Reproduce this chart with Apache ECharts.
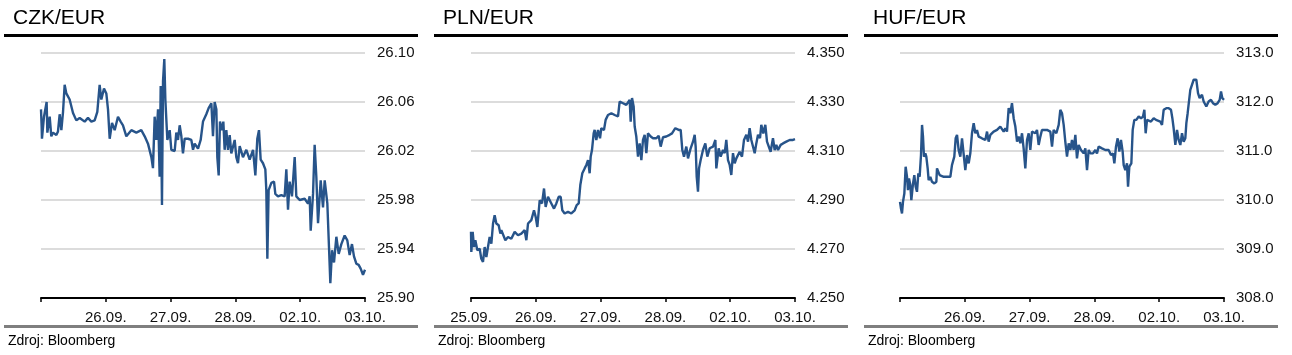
<!DOCTYPE html>
<html>
<head>
<meta charset="utf-8">
<script src="https://cdn.jsdelivr.net/npm/echarts@6/dist/echarts.min.js"></script>
<style>
html,body{margin:0;padding:0;background:#fff;}
#c{width:1292px;height:355px;}
</style>
</head>
<body>
<div id="c"></div>
<script>
// Time in trading-day units x100 (0 = start of 25.09., 500 = 03.10.)
const titles = ['CZK/EUR', 'PLN/EUR', 'HUF/EUR'];
const sourceText = 'Zdroj: Bloomberg';
const dayLabels = ['25.09.', '26.09.', '27.09.', '28.09.', '02.10.', '03.10.'];
const showFirstDayLabel = [false, true, false];

const czkYTicks = [25.90, 25.94, 25.98, 26.02, 26.06, 26.10];
const plnYTicks = [4.250, 4.270, 4.290, 4.310, 4.330, 4.350];
const hufYTicks = [308.0, 309.0, 310.0, 311.0, 312.0, 313.0];

const czkData = [
[0,26.054],[1.0,26.040],[1.5,26.030],[4.6,26.048],[8.7,26.060],[9.8,26.035],[13.4,26.048],[15.9,26.032],[18.5,26.035],[23.7,26.033],[26.2,26.036],[28.8,26.050],[31.4,26.037],[34.0,26.052],[36.5,26.074],[39.1,26.067],[44.2,26.062],[46.8,26.062],[49.4,26.051],[54.5,26.045],[59.7,26.047],[67.4,26.044],[72.5,26.047],[77.7,26.044],[82.8,26.045],[86.9,26.052],[90.5,26.074],[93.1,26.062],[97.2,26.071],[100.8,26.067],[103.4,26.054],[106.0,26.030],[109.6,26.043],[113.7,26.037],[118.8,26.048],[122.9,26.044],[126.5,26.041],[131.7,26.032],[139.4,26.037],[147.1,26.035],[154.8,26.037],[160.0,26.032],[165.1,26.026],[170.3,26.015],[172.8,26.006],[175.4,26.048],[178.0,26.029],[180.6,26.054],[183.1,25.999],[184.7,26.073],[186.7,25.976],[188.3,26.077],[190.3,26.095],[191.9,26.062],[195.0,26.029],[198.6,26.037],[201.1,26.021],[206.3,26.020],[208.8,26.035],[211.4,26.029],[214.0,26.041],[216.6,26.032],[219.1,26.018],[221.7,26.030],[226.9,26.030],[232.0,26.029],[234.6,26.021],[237.1,26.026],[242.3,26.022],[246.4,26.029],[250.0,26.044],[255.1,26.050],[258.7,26.055],[262.9,26.059],[265.4,26.032],[268.0,26.060],[270.6,26.054],[272.1,26.015],[274.2,26.000],[276.2,26.044],[279.3,26.037],[281.4,26.044],[283.4,26.021],[286.0,26.037],[288.6,26.021],[291.2,26.033],[293.7,26.018],[298.9,26.029],[301.4,26.015],[304.0,26.010],[306.6,26.024],[311.7,26.015],[316.9,26.021],[322.0,26.013],[327.2,26.021],[330.8,26.000],[333.8,26.030],[336.4,26.037],[339.0,26.013],[342.6,26.010],[346.2,26.005],[347.7,25.988],[349.3,25.932],[351.3,25.988],[355.5,25.994],[359.6,25.995],[361.6,25.985],[365.7,25.983],[370.9,25.984],[376.0,25.983],[378.6,26.005],[381.2,25.972],[383.7,25.995],[387.3,25.983],[391.5,26.015],[394.0,25.983],[399.2,25.980],[406.9,25.981],[412.0,25.977],[414.6,25.983],[416.2,25.955],[419.8,25.985],[422.3,26.025],[424.9,25.999],[427.5,25.961],[431.6,25.996],[435.2,25.974],[437.8,25.996],[441.9,25.977],[444.4,25.942],[446.5,25.912],[449.1,25.939],[452.2,25.929],[455.8,25.950],[459.4,25.936],[463.5,25.944],[468.6,25.951],[472.7,25.947],[476.3,25.935],[479.9,25.944],[483.0,25.934],[486.6,25.928],[490.2,25.927],[493.3,25.924],[496.9,25.919],[500,25.923]
];

const plnData = [
[0,4.2770],[0.5,4.2688],[2.6,4.2770],[4.6,4.2708],[6.7,4.2736],[9.8,4.2695],[13.4,4.2701],[15.9,4.2660],[18.5,4.2647],[21.1,4.2708],[23.7,4.2667],[26.2,4.2708],[28.8,4.2749],[31.4,4.2722],[34.0,4.2804],[36.5,4.2838],[39.1,4.2804],[42.7,4.2797],[45.3,4.2763],[46.8,4.2777],[49.4,4.2770],[53.0,4.2736],[57.1,4.2749],[62.2,4.2742],[67.4,4.2770],[72.5,4.2756],[77.7,4.2763],[82.8,4.2777],[85.4,4.2736],[88.0,4.2804],[93.1,4.2818],[97.2,4.2858],[99.8,4.2831],[102.4,4.2790],[106.0,4.2899],[109.6,4.2886],[112.7,4.2947],[115.2,4.2872],[118.8,4.2913],[124.0,4.2886],[128.1,4.2865],[131.7,4.2886],[135.3,4.2913],[138.4,4.2913],[140.9,4.2858],[144.5,4.2845],[149.7,4.2852],[154.8,4.2845],[160.0,4.2858],[163.1,4.2879],[166.2,4.2886],[168.7,4.2961],[171.8,4.3009],[175.4,4.3029],[178.0,4.3043],[180.6,4.3063],[183.1,4.3009],[184.7,4.3077],[186.7,4.3104],[189.3,4.3172],[190.8,4.3186],[193.4,4.3145],[196.0,4.3186],[199.1,4.3152],[201.1,4.3193],[205.2,4.3186],[207.8,4.3227],[211.4,4.3247],[216.6,4.3254],[221.7,4.3247],[226.9,4.3241],[229.4,4.3302],[234.6,4.3295],[239.7,4.3288],[242.3,4.3282],[244.9,4.3309],[246.4,4.3220],[248.5,4.3316],[251.0,4.3282],[252.6,4.3200],[255.1,4.3159],[257.7,4.3077],[260.3,4.3131],[262.9,4.3063],[265.4,4.3145],[268.0,4.3166],[270.6,4.3091],[273.1,4.3172],[277.3,4.3159],[280.9,4.3152],[286.0,4.3152],[289.6,4.3162],[292.7,4.3118],[296.3,4.3156],[301.4,4.3159],[306.6,4.3166],[310.2,4.3172],[315.3,4.3193],[320.5,4.3186],[323.6,4.3186],[326.1,4.3104],[328.7,4.3077],[332.3,4.3118],[334.9,4.3070],[339.0,4.3111],[342.6,4.3138],[345.2,4.3166],[346.7,4.3118],[348.3,4.2995],[350.3,4.2934],[351.9,4.3029],[354.4,4.3063],[358.0,4.3104],[361.6,4.3131],[364.7,4.3077],[368.3,4.3111],[373.5,4.3118],[377.1,4.3145],[378.6,4.3029],[380.1,4.3022],[382.2,4.3111],[385.3,4.3077],[388.9,4.3104],[391.5,4.3091],[394.0,4.3145],[396.6,4.3063],[399.2,4.3043],[401.7,4.3002],[404.3,4.3091],[406.9,4.3050],[409.5,4.3070],[414.6,4.3097],[418.2,4.3077],[421.3,4.3145],[424.9,4.3166],[427.5,4.3138],[430.0,4.3193],[432.6,4.3145],[435.2,4.3152],[437.8,4.3091],[440.3,4.3131],[442.9,4.3166],[446.0,4.3152],[448.0,4.3207],[451.1,4.3172],[454.2,4.3207],[456.8,4.3138],[459.4,4.3145],[462.4,4.3097],[466.0,4.3152],[468.6,4.3104],[471.2,4.3125],[473.8,4.3104],[477.9,4.3125],[481.5,4.3131],[486.6,4.3138],[491.8,4.3145],[496.9,4.3145],[500,4.3148]
];

const hufData = [
[0,309.962],[1.5,309.826],[3.1,309.724],[4.6,309.962],[6.7,310.133],[8.7,310.679],[10.8,310.474],[12.3,310.201],[13.9,310.440],[15.9,310.304],[17.5,309.997],[20.1,310.338],[22.1,310.508],[24.2,310.270],[26.2,310.167],[28.3,310.543],[30.3,310.474],[32.4,310.918],[34.0,311.532],[35.5,311.294],[37.0,310.884],[39.1,310.952],[40.6,310.884],[42.7,310.645],[44.2,310.406],[46.8,310.474],[49.4,310.372],[53.0,310.338],[56.1,310.372],[57.1,310.645],[61.2,310.508],[67.4,310.474],[72.5,310.474],[77.7,310.474],[80.2,310.713],[83.8,310.884],[85.9,311.259],[88.0,311.328],[90.5,311.021],[93.1,310.884],[95.7,311.259],[98.3,311.225],[100.8,310.611],[103.4,310.918],[106.0,310.747],[108.5,310.952],[111.1,311.362],[113.7,311.567],[116.3,311.362],[118.8,311.430],[121.4,311.294],[126.5,311.259],[131.7,311.225],[134.3,311.396],[136.8,311.191],[139.4,311.328],[144.5,311.396],[149.7,311.430],[154.8,311.498],[157.4,311.464],[160.0,311.396],[162.6,311.464],[165.1,311.396],[167.7,311.874],[170.3,311.771],[172.8,311.976],[175.4,311.669],[178.0,311.498],[180.6,311.191],[183.1,311.294],[185.7,311.157],[188.3,311.362],[190.8,311.055],[193.4,310.645],[196.0,311.225],[198.6,311.362],[201.1,311.021],[203.7,311.396],[206.3,311.430],[208.8,311.362],[211.4,311.430],[214.0,311.123],[216.6,311.294],[219.1,311.430],[221.7,311.396],[226.9,311.430],[232.0,311.396],[234.6,311.089],[237.1,311.430],[241.3,311.362],[244.9,311.532],[247.4,311.840],[250.0,311.771],[252.6,311.532],[255.1,311.191],[257.7,310.884],[260.3,311.157],[262.9,311.021],[265.4,311.225],[268.0,311.021],[270.6,311.328],[273.1,310.850],[275.7,311.123],[279.3,311.021],[283.4,310.952],[286.0,311.055],[288.6,310.611],[291.2,311.021],[293.7,310.952],[297.8,310.952],[301.4,311.021],[304.0,310.952],[306.6,311.089],[311.7,311.055],[316.9,311.021],[322.0,311.021],[325.6,310.918],[328.7,310.952],[330.8,310.747],[333.3,311.089],[335.9,311.259],[338.5,310.986],[341.0,311.225],[343.6,310.986],[345.2,310.713],[347.7,310.611],[350.3,310.747],[351.9,310.270],[353.9,310.679],[357.0,310.747],[359.1,311.430],[361.6,311.635],[364.7,311.635],[368.3,311.703],[371.9,311.669],[375.0,311.703],[377.1,311.840],[379.1,311.362],[381.2,311.635],[383.7,311.635],[387.3,311.601],[391.5,311.669],[395.1,311.635],[398.1,311.669],[401.7,311.601],[404.3,311.532],[406.9,311.840],[411.0,311.874],[414.6,311.874],[418.2,311.840],[420.3,311.669],[422.3,311.464],[424.9,311.123],[427.5,311.430],[430.0,311.225],[432.6,311.123],[435.2,311.362],[437.8,311.191],[440.3,311.259],[441.9,311.567],[443.9,311.771],[446.0,311.805],[448.0,312.249],[450.6,312.215],[453.2,312.454],[457.3,312.454],[459.9,312.181],[462.4,312.078],[466.0,312.147],[468.6,312.010],[472.7,311.908],[476.3,312.010],[479.9,312.044],[483.0,311.976],[486.6,311.942],[490.2,311.976],[493.3,312.044],[495.4,312.215],[497.4,312.078],[500,312.044]
];

const seriesData = [czkData, plnData, hufData];
const yTicks = [czkYTicks, plnYTicks, hufYTicks];
const yDecimals = [2, 3, 1];

const FONT = 'Liberation Sans, Arial, Helvetica, sans-serif';
const LINE_COLOR = '#27548a';
const panelX = [0, 430, 860];
const gridLeft = [41, 471, 900];
const plotW = 324;

const grid = [], xAxis = [], yAxis = [], series = [], title = [], graphic = [];
for (let i = 0; i < 3; i++) {
  const ox = panelX[i];
  const ticks = yTicks[i];
  const yInterval = +(ticks[1] - ticks[0]).toFixed(6);
  grid.push({ left: gridLeft[i], top: 53, width: plotW, height: 245 });
  xAxis.push({
    type: 'value', gridIndex: i, min: 0, max: 500, interval: 100, z: 3,
    axisLine: { show: true, lineStyle: { color: '#000', width: 2 } },
    axisTick: { show: true, length: 4, lineStyle: { color: '#000', width: 1.5 } },
    axisLabel: {
      margin: 12, color: '#111', fontSize: 15, fontFamily: FONT,
      formatter: (v) => {
        const k = Math.round(v / 100);
        if (k === 0 && !showFirstDayLabel[i]) return '';
        return dayLabels[k];
      }
    },
    splitLine: { show: false }
  });
  yAxis.push({
    type: 'value', gridIndex: i, position: 'right',
    min: ticks[0], max: ticks[ticks.length - 1], interval: yInterval,
    axisLine: { show: false }, axisTick: { show: false },
    axisLabel: {
      margin: 12, color: '#111', fontSize: 15, fontFamily: FONT,
      formatter: (v) => v.toFixed(yDecimals[i])
    },
    splitLine: { show: true, lineStyle: { color: '#dcdcdc', width: 2 } }
  });
  series.push({
    type: 'line', xAxisIndex: i, yAxisIndex: i, data: seriesData[i],
    showSymbol: false, symbol: 'none', animation: false,
    lineStyle: { color: LINE_COLOR, width: 2.4 }
  });
  title.push({
    text: titles[i], left: ox + 8, top: 3,
    textStyle: { fontFamily: FONT, fontSize: 21, fontWeight: 'normal', color: '#000' }
  });
  graphic.push({ type: 'rect', shape: { x: ox + 4, y: 34, width: 414, height: 3 }, style: { fill: '#000' } });
  graphic.push({ type: 'rect', shape: { x: ox + 4, y: 325, width: 414, height: 3 }, style: { fill: '#7f7f7f' } });
  graphic.push({
    type: 'text', x: ox + 8, y: 334,
    style: { text: sourceText, font: '14px ' + FONT, fill: '#000' }
  });
}

const chart = echarts.init(document.getElementById('c'), null, { renderer: 'canvas' });
chart.setOption({ animation: false, backgroundColor: '#fff', title, grid, xAxis, yAxis, series, graphic });
</script>
</body>
</html>
